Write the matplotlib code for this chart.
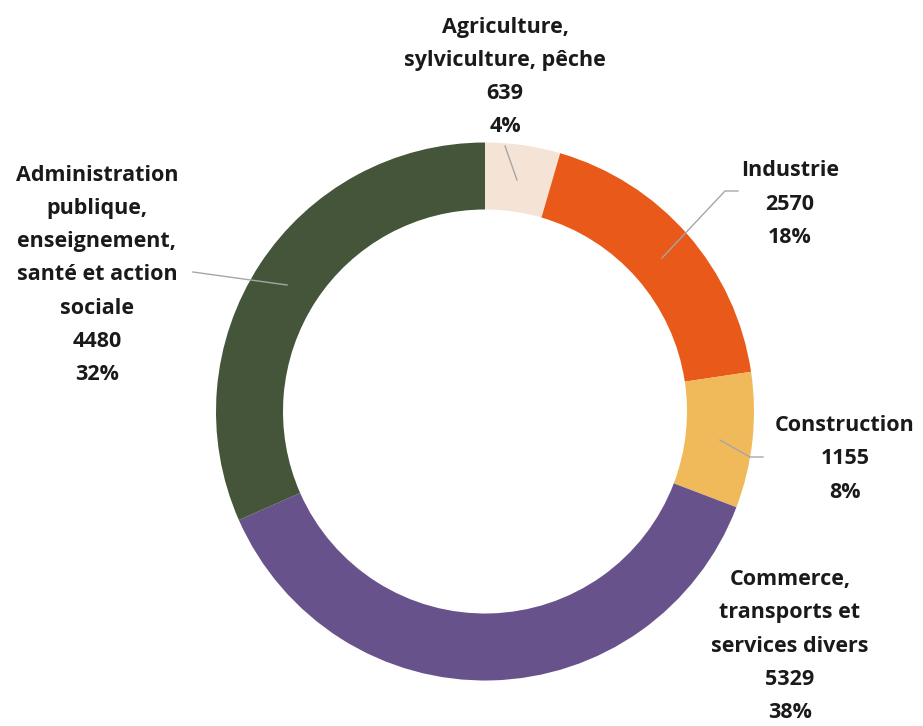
import matplotlib
matplotlib.use("Agg")
import matplotlib.pyplot as plt

# Emploi par secteur d'activité
secteurs = [
    "Agriculture,\nsylviculture, pêche",
    "Industrie",
    "Construction",
    "Commerce,\ntransports et\nservices divers",
    "Administration\npublique,\nenseignement,\nsanté et action\nsociale",
]
effectifs = [639, 2570, 1155, 5329, 4480]
parts = ["4%", "18%", "8%", "38%", "32%"]
couleurs = ["#F5E3D5", "#E8591A", "#F0B95A", "#68528C", "#44553A"]

W, H = 923, 726
fig = plt.figure(figsize=(W / 100, H / 100), dpi=100)
ax = fig.add_axes([0, 0, 1, 1])


def px(x, y):
    """Coordonnées pixel (origine en haut à gauche) vers données."""
    return x, H - y


centre = px(485, 411.5)
rayon = 269
ax.pie(
    effectifs,
    colors=couleurs,
    startangle=90,
    counterclock=False,
    center=centre,
    radius=rayon,
    wedgeprops=dict(width=67, linewidth=0),
)
ax.set_xlim(0, W)
ax.set_ylim(0, H)
ax.set_aspect("equal")
ax.axis("off")

# Étiquettes : centre du bloc de texte
positions = [(505, 77), (790, 204), (845, 459), (790, 646), (97, 275)]
# Traits de rappel
traits = [
    [(505, 146), (517, 180)],
    [(738, 191), (725, 191), (662, 258)],
    [(763, 457), (750, 457), (720, 440)],
    None,
    [(193, 272), (287, 285)],
]

for nom, val, pct, pos, trait in zip(secteurs, effectifs, parts, positions, traits):
    texte = f"{nom}\n{val}\n{pct}"
    ax.text(
        *px(*pos), texte,
        ha="center", va="center", multialignment="center",
        fontsize=15.5, fontweight="bold", family=["Open Sans", "DejaVu Sans"],
        color="#1a1a1a", linespacing=1.76,
    )
    if trait:
        pts = [px(x, y) for x, y in trait]
        xs, ys = zip(*pts)
        ax.plot(xs, ys, color="#A6A6A6", lw=1.0)

fig.savefig("out.png", dpi=100)
